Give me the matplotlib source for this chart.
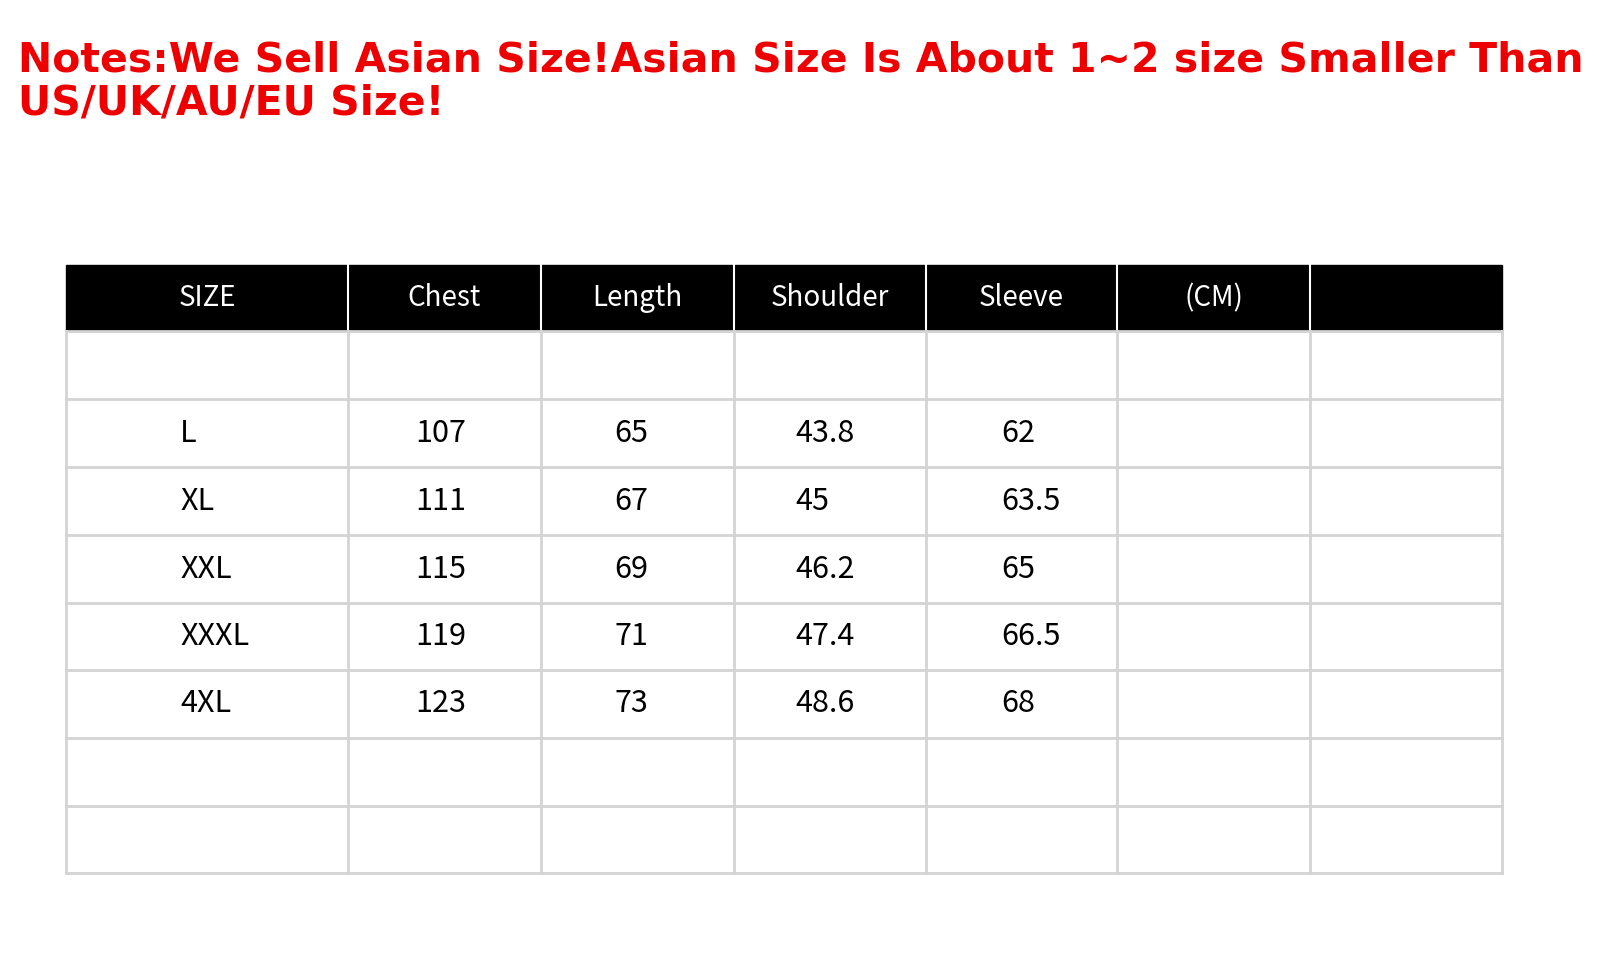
import matplotlib.pyplot as plt
from matplotlib.patches import Rectangle

plt.rcParams['font.family'] = ['Noto Sans CJK SC', 'DejaVu Sans']

title = "Notes:We Sell Asian Size!Asian Size Is About 1~2 size Smaller Than\nUS/UK/AU/EU Size!"
headers = ["SIZE", "Chest", "Length", "Shoulder", "Sleeve", "(CM)", ""]
sizes = ["", "L", "XL", "XXL", "XXXL", "4XL", "", ""]
chest = ["", "107", "111", "115", "119", "123", "", ""]
length = ["", "65", "67", "69", "71", "73", "", ""]
shoulder = ["", "43.8", "45", "46.2", "47.4", "48.6", "", ""]
sleeve = ["", "62", "63.5", "65", "66.5", "68", "", ""]

col_edges = [66, 348, 541, 734, 926, 1117, 1310, 1502]
row_edges = [265, 331, 399, 467, 535, 603, 670, 738, 806, 873]
text_x = [180, 415, 614, 795, 1001]

fig = plt.figure(figsize=(16.01, 9.77), dpi=100)
ax = fig.add_axes([0, 0, 1, 1])
ax.set_xlim(0, 1601)
ax.set_ylim(977, 0)
ax.axis('off')

ax.text(18, 40, title, color='#ee0000', fontsize=29.5, fontweight='bold',
        family='DejaVu Sans', va='top', ha='left', linespacing=1.1)

# header band
ax.add_patch(Rectangle((col_edges[0], row_edges[0]), col_edges[-1] - col_edges[0],
                       row_edges[1] - row_edges[0], color='black', zorder=1))
for x in col_edges[1:-1]:
    ax.plot([x, x], [row_edges[0], row_edges[1]], color='white', lw=1.5, zorder=2)
for i, h in enumerate(headers):
    cx = (col_edges[i] + col_edges[i + 1]) / 2
    ax.text(cx, (row_edges[0] + row_edges[1]) / 2, h, color='white', fontsize=20,
            ha='center', va='center', zorder=3)

# grid
for y in row_edges[1:]:
    ax.plot([col_edges[0], col_edges[-1]], [y, y], color='#d4d4d4', lw=2)
for x in col_edges:
    ax.plot([x, x], [row_edges[1], row_edges[-1]], color='#d4d4d4', lw=2)

columns = [sizes, chest, length, shoulder, sleeve]
for c, col in enumerate(columns):
    for r, val in enumerate(col):
        cy = (row_edges[r + 1] + row_edges[r + 2]) / 2
        ax.text(text_x[c], cy, val, fontsize=22, ha='left', va='center', color='black')

fig.savefig('out.png', dpi=100, facecolor='white')
